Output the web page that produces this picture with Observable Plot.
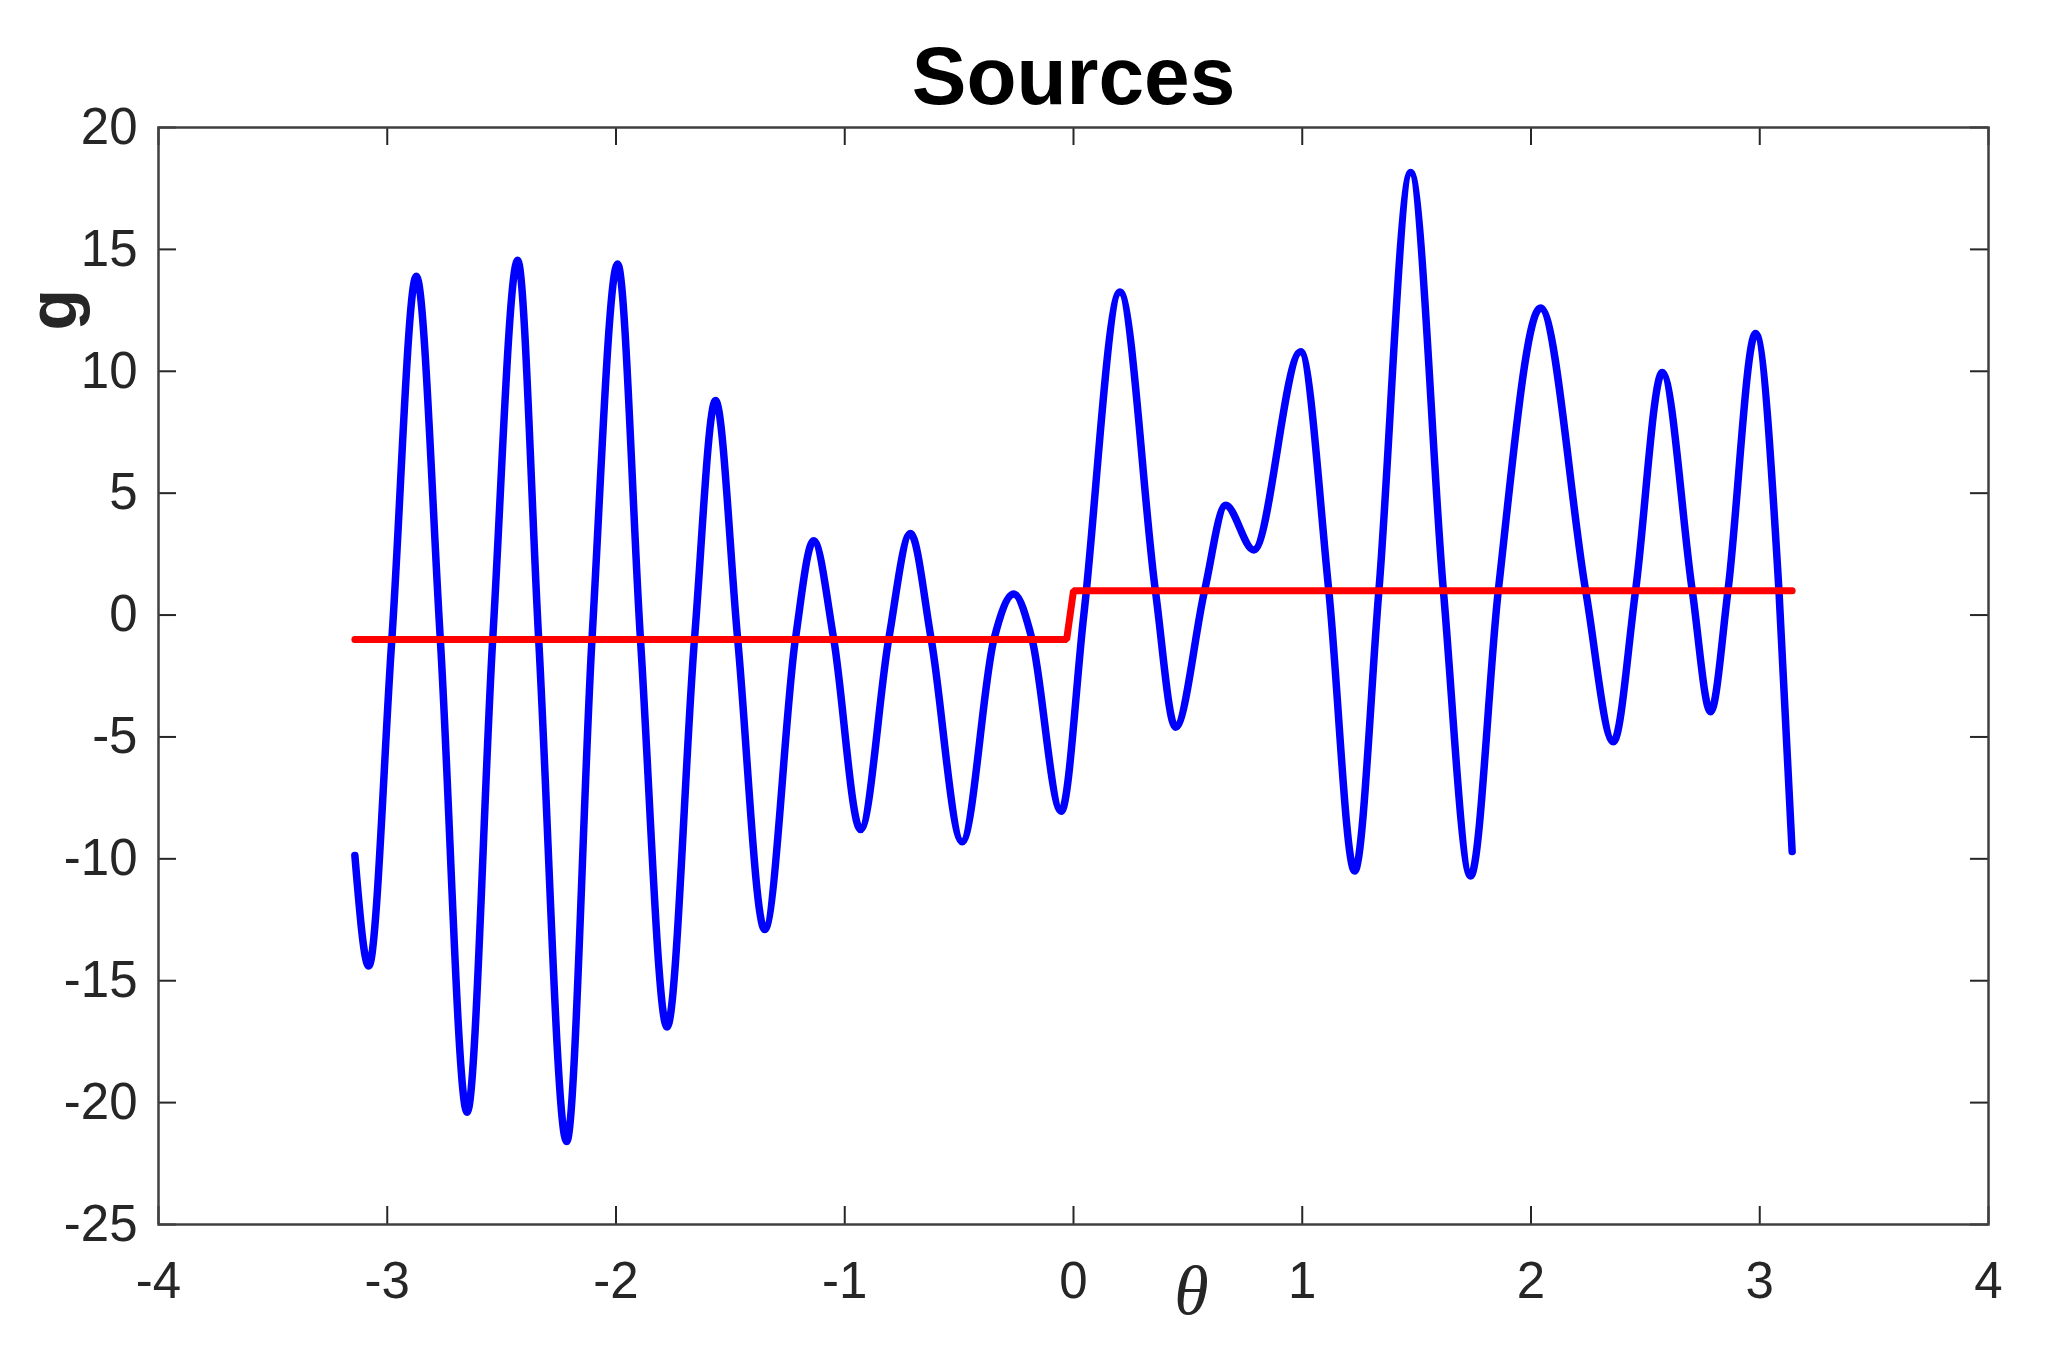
<!DOCTYPE html>
<html>
<head>
<meta charset="utf-8">
<script src="https://cdn.jsdelivr.net/npm/d3@7"></script>
<script src="https://cdn.jsdelivr.net/npm/@observablehq/plot@0.6"></script>
<style>
  html, body { margin: 0; padding: 0; background: #fff; }
  #chart svg { display: block; }
</style>
</head>
<body>
<div id="chart"></div>
<script>
// ---- data ----
const titleText = "Sources";
const xLabel = "θ";
const yLabel = "g";
const xTicks = [-4, -3, -2, -1, 0, 1, 2, 3, 4];
const yTicks = [-25, -20, -15, -10, -5, 0, 5, 10, 15, 20];

// blue curve: extrema and crossings
const blueTheta = [
  -3.1416, -3.081, -2.98, -2.873, -2.768, -2.651, -2.539, -2.430, -2.338, -2.216,
  -2.105, -1.993, -1.893, -1.777, -1.657, -1.565, -1.468, -1.350, -1.216, -1.136,
  -1.048, -0.931, -0.808, -0.713, -0.622, -0.487, -0.348, -0.261, -0.181, -0.054,
  0.045, 0.203, 0.358, 0.446, 0.573, 0.665, 0.788, 0.993, 1.116, 1.229,
  1.335, 1.474, 1.617, 1.736, 1.857, 2.042, 2.239, 2.360, 2.457, 2.574,
  2.705, 2.785, 2.861, 2.982, 3.084, 3.1416
];
const blueG = [
  -9.86, -14.4, -1, 13.9, -1, -20.4, -1, 14.55, -1, -21.6,
  -1, 14.4, -1, -16.9, -1, 8.8, -1, -12.9, -1, 3.05,
  -1, -8.8, -1, 3.35, -1, -9.3, -1, 0.86, -1, -8.05,
  0, 13.25, 1, -4.6, 1, 4.5, 2.67, 10.8, 1, -10.5,
  1, 18.15, 1, -10.7, 1, 12.6, 1, -5.2, 1, 9.95,
  1, -3.97, 1, 11.55, 1, -9.7
];

// red step line
const redTheta = [-3.1416, -0.03, 0, 3.1416];
const redG = [-1, -1, 1, 1];

// ---- build tables ----
const blue = blueTheta.map((t, i) => ({theta: t, g: blueG[i]}));
const red = redTheta.map((t, i) => ({theta: t, g: redG[i]}));

const W = 2052, H = 1348;
const mL = 158, mR = 64, mT = 127, mB = 124;
const innerW = W - mL - mR, innerH = H - mT - mB;
const tickLen = 18;
const ink = "#262626";
const fmt = d => String(d);

const chart = Plot.plot({
  width: W,
  height: H,
  marginLeft: mL,
  marginRight: mR,
  marginTop: mT,
  marginBottom: mB,
  style: {fontFamily: "'Liberation Sans', Arial, Helvetica, sans-serif", background: "#fff", color: ink},
  x: {domain: [-4, 4], ticks: xTicks, tickFormat: fmt},
  y: {domain: [-25, 20], ticks: yTicks, tickFormat: fmt},
  marks: [
    Plot.line(blue, {x: "theta", y: "g", stroke: "#0000ff", strokeWidth: 7.5, curve: "monotone-x", strokeLinejoin: "round"}),
    Plot.line(red, {x: "theta", y: "g", stroke: "#ff0000", strokeWidth: 7, strokeLinejoin: "miter"}),
    // inward ticks on all four sides
    Plot.ruleX(xTicks, {stroke: ink, strokeWidth: 2, insetTop: innerH - tickLen}),
    Plot.ruleX(xTicks, {stroke: ink, strokeWidth: 2, insetBottom: innerH - tickLen}),
    Plot.ruleY(yTicks, {stroke: ink, strokeWidth: 2, insetRight: innerW - tickLen}),
    Plot.ruleY(yTicks, {stroke: ink, strokeWidth: 2, insetLeft: innerW - tickLen}),
    Plot.frame({stroke: "#404040", strokeWidth: 2.5}),
    Plot.axisX({anchor: "bottom", ticks: xTicks, tickFormat: fmt, tickSize: 0, tickPadding: 37, fontSize: 51, color: ink, label: null}),
    Plot.axisY({anchor: "left", ticks: yTicks, tickFormat: fmt, tickSize: 0, tickPadding: 21, fontSize: 51, color: ink, label: null}),
    // title
    Plot.text([titleText], {frameAnchor: "top", lineAnchor: "bottom", dy: -24, fontSize: 82, fontWeight: "bold", fill: "#000"}),
    // x label (italic theta)
    Plot.text([xLabel], {frameAnchor: "bottom", lineAnchor: "bottom", dx: 118, dy: 89, fontSize: 70, fontStyle: "italic", fontFamily: "'Liberation Serif', 'Times New Roman', serif", fill: ink}),
    // y label
    Plot.text([yLabel], {frameAnchor: "top-left", dx: -131, dy: 203, rotate: -90, fontSize: 68, fontWeight: "bold", fill: ink})
  ]
});
document.getElementById("chart").appendChild(chart);
</script>
</body>
</html>
